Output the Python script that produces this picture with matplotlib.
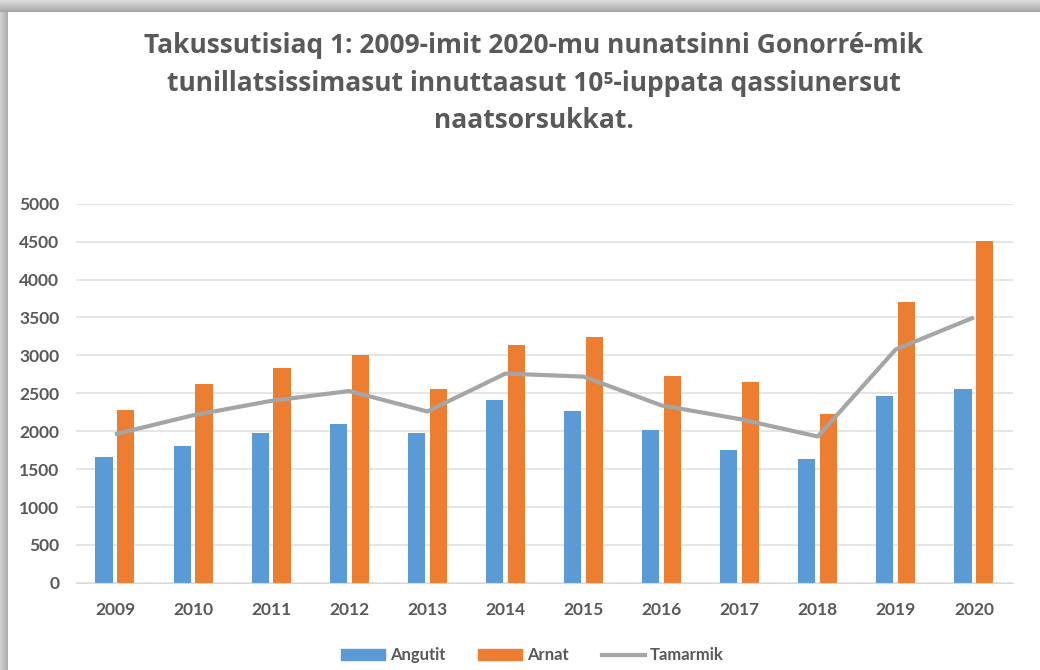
import numpy as np
import matplotlib.pyplot as plt
from matplotlib.patches import Patch
from matplotlib.lines import Line2D

years = ['2009', '2010', '2011', '2012', '2013', '2014', '2015', '2016', '2017', '2018', '2019', '2020']
angutit = [1660, 1800, 1980, 2100, 1980, 2410, 2260, 2020, 1750, 1640, 2470, 2550]
arnat = [2280, 2620, 2830, 3000, 2560, 3140, 3240, 2730, 2650, 2230, 3710, 4510]
tamarmik = [1960, 2210, 2400, 2530, 2260, 2760, 2720, 2340, 2160, 1930, 3080, 3500]

title = ('Takussutisiaq 1: 2009-imit 2020-mu nunatsinni Gonorré-mik\n'
         'tunillatsissimasut innuttaasut 10\u2075-iuppata qassiunersut\n'
         'naatsorsukkat.')

plt.rcParams['font.family'] = ['Lato', 'DejaVu Sans']
txt = '#595959'

fig = plt.figure(figsize=(10.4, 6.7), dpi=100)

# shadow frame behind the chart
bg = fig.add_axes([0, 0, 1, 1], zorder=-10)
img = np.ones((670, 1040))
top = np.linspace(0.86, 0.66, 12)
img[:12, :] = top[:, None]
left = np.linspace(0.82, 0.68, 8)
img[12:, :8] = left[None, :]
bg.imshow(img, cmap='gray', vmin=0, vmax=1, aspect='auto', interpolation='bilinear')
bg.axis('off')

ax = fig.add_axes([0.073, 0.130, 0.901, 0.566])
x = np.arange(len(years))
w = 0.22
ax.bar(x - 0.14, angutit, w, color='#5B9BD5', zorder=2)
ax.bar(x + 0.14, arnat, w, color='#ED7D31', zorder=2)
ax.plot(x, tamarmik, color='#A5A5A5', lw=3, zorder=3, solid_capstyle='butt')

ax.set_xlim(-0.5, len(years) - 0.5)
ax.set_ylim(0, 5000)
ax.set_yticks(range(0, 5001, 500))
ax.set_xticks(x)
ax.set_xticklabels(years)
ax.yaxis.grid(True, color='#E4E4E4', lw=1.3, zorder=0)
ax.set_axisbelow(True)
for s in ['top', 'right', 'left']:
    ax.spines[s].set_visible(False)
ax.spines['bottom'].set_color('#D9D9D9')
ax.tick_params(length=0, labelsize=12.5, labelcolor=txt)
ax.tick_params(axis='x', pad=14)
ax.tick_params(axis='y', pad=12)
for lab in ax.get_xticklabels() + ax.get_yticklabels():
    lab.set_fontweight('bold')

fig.text(0.513, 0.876, title, ha='center', va='center', fontsize=19, fontweight='bold',
         color=txt, linespacing=1.5, family=['Open Sans', 'DejaVu Sans'])

handles = [Patch(color='#5B9BD5', label='Angutit'),
           Patch(color='#ED7D31', label='Arnat'),
           Line2D([], [], color='#A5A5A5', lw=3, label='Tamarmik')]
leg = fig.legend(handles=handles, loc='center', bbox_to_anchor=(0.512, 0.022), ncol=3,
                 frameon=False, fontsize=12, handlelength=2.6, handleheight=0.6,
                 handletextpad=0.3, columnspacing=2.0)
for t in leg.get_texts():
    t.set_color(txt)
    t.set_fontweight('bold')

fig.savefig('out.png', dpi=100)
